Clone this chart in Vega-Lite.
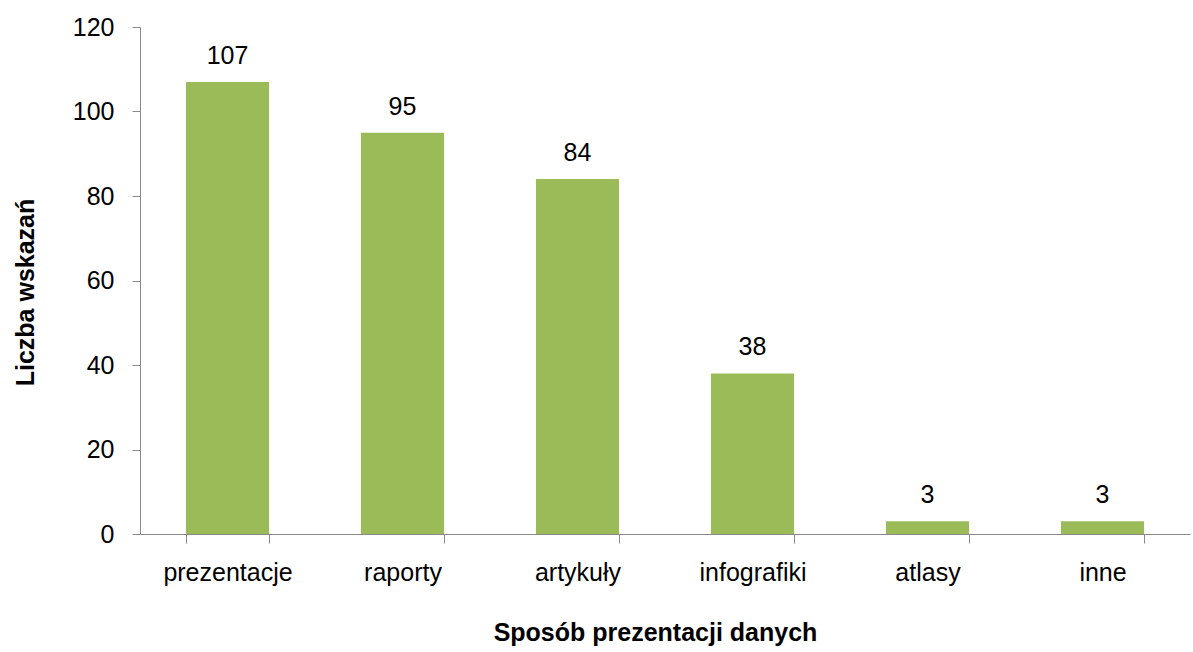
{
  "$schema": "https://vega.github.io/schema/vega-lite/v6.json",
  "width": 1050,
  "height": 507,
  "autosize": {"type": "none"},
  "padding": {"left": 140, "top": 27, "right": 3, "bottom": 118},
  "background": "white",
  "config": {
    "view": {"stroke": null},
    "font": "Liberation Sans, Arial, sans-serif"
  },
  "data": {
    "values": [
      {"sposob": "prezentacje", "liczba": 107},
      {"sposob": "raporty", "liczba": 95},
      {"sposob": "artykuły", "liczba": 84},
      {"sposob": "infografiki", "liczba": 38},
      {"sposob": "atlasy", "liczba": 3},
      {"sposob": "inne", "liczba": 3}
    ]
  },
  "encoding": {
    "x": {
      "field": "sposob",
      "type": "nominal",
      "sort": null,
      "scale": {"paddingInner": 0.525, "paddingOuter": 0.2625},
      "axis": {
        "title": "Sposób prezentacji danych",
        "tickBand": "extent",
        "labelAngle": 0,
        "labelFontSize": 25,
        "labelColor": "#000000",
        "labelPadding": 17,
        "labelFont": "Liberation Sans, Arial, sans-serif",
        "domainColor": "#898989",
        "tickColor": "#898989",
        "tickSize": 9,
        "titleFont": "Liberation Sans, Arial, sans-serif",
        "titleFontSize": 25,
        "titleFontWeight": "bold",
        "titleColor": "#000000",
        "titleX": 515,
        "titleY": 106,
        "titleBaseline": "alphabetic",
        "titleAlign": "center"
      }
    },
    "y": {
      "field": "liczba",
      "type": "quantitative",
      "scale": {"domain": [0, 120], "nice": false},
      "axis": {
        "title": "Liczba wskazań",
        "values": [0, 20, 40, 60, 80, 100, 120],
        "grid": false,
        "labelFontSize": 25,
        "labelColor": "#000000",
        "labelPadding": 18,
        "labelFont": "Liberation Sans, Arial, sans-serif",
        "domainColor": "#898989",
        "tickColor": "#898989",
        "tickSize": 8,
        "titleFont": "Liberation Sans, Arial, sans-serif",
        "titleFontSize": 25,
        "titleFontWeight": "bold",
        "titleColor": "#000000",
        "titleAngle": 270,
        "titleX": -107,
        "titleY": 265,
        "titleBaseline": "alphabetic",
        "titleAlign": "center"
      }
    }
  },
  "layer": [
    {"mark": {"type": "bar", "color": "#9BBB59"}},
    {
      "mark": {
        "type": "text",
        "baseline": "alphabetic",
        "dy": -18,
        "fontSize": 25,
        "font": "Liberation Sans, Arial, sans-serif",
        "color": "#000000"
      },
      "encoding": {"text": {"field": "liczba", "type": "quantitative"}}
    }
  ]
}
